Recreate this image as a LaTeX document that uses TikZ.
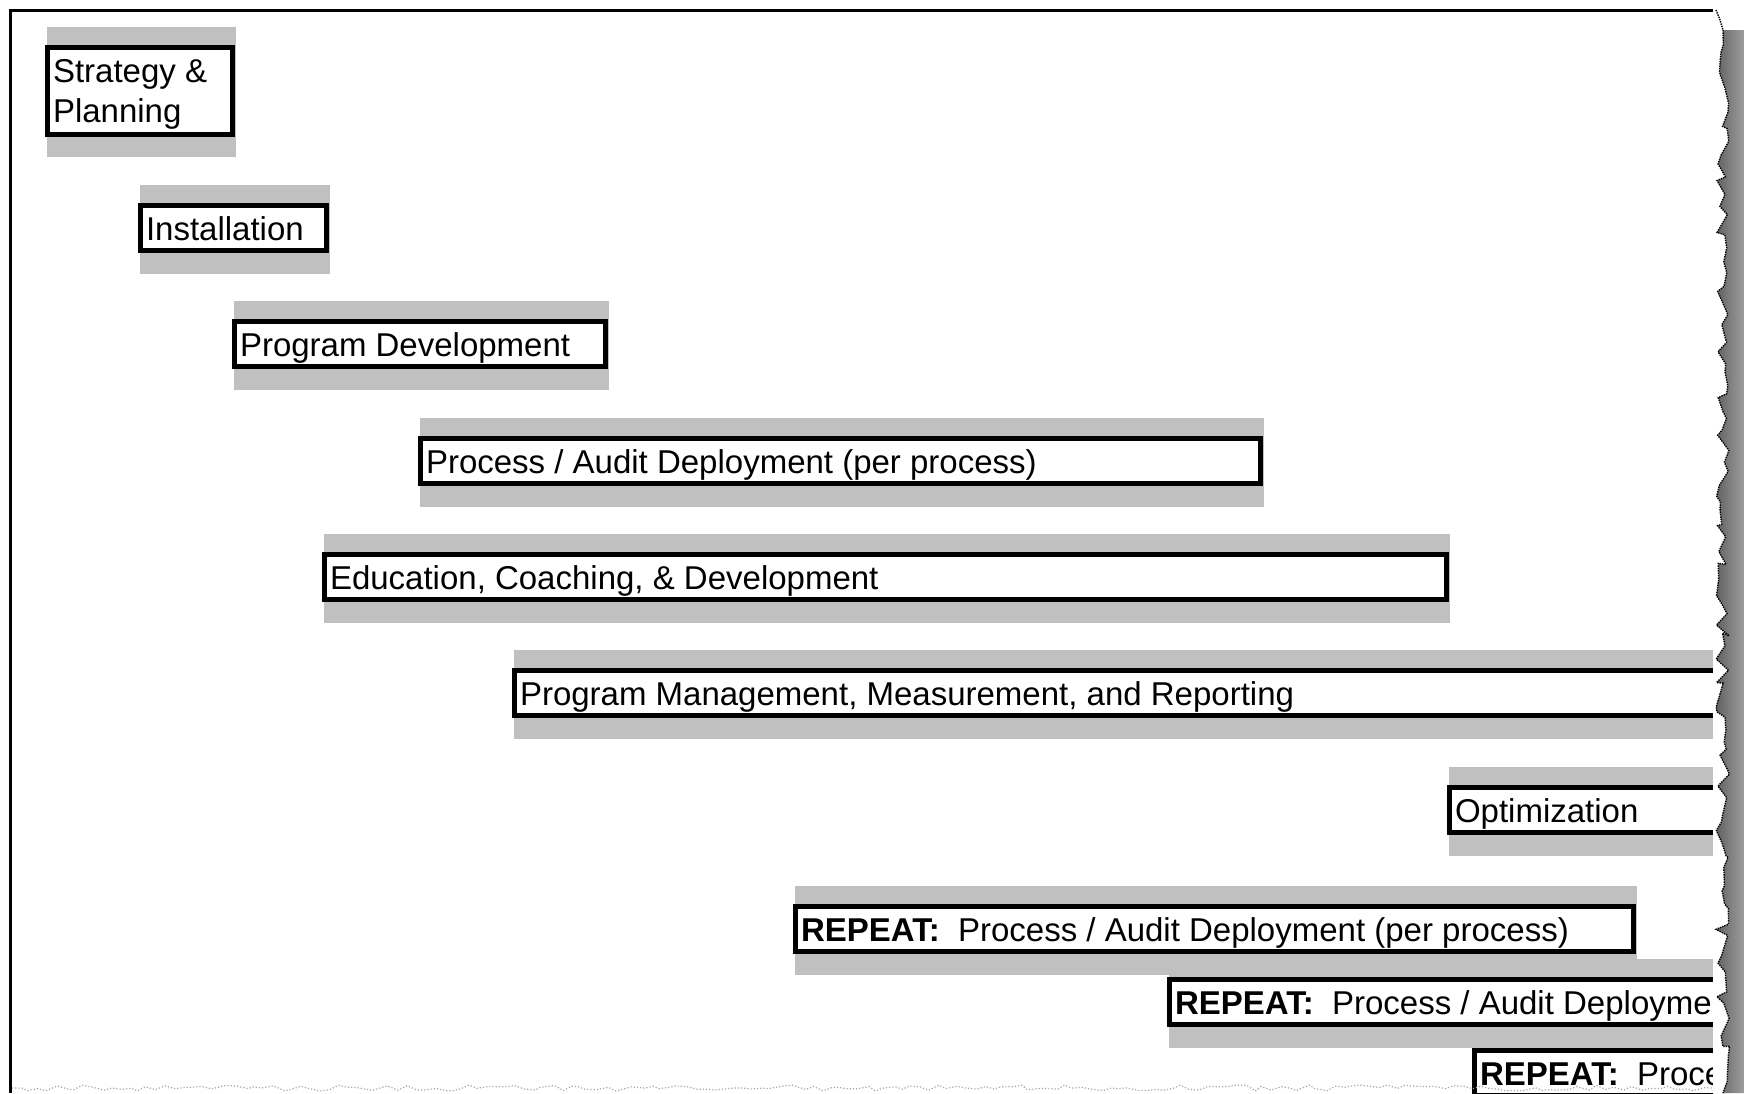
\documentclass[tikz,border=0pt]{standalone}
\usepackage{fontspec}
\setmainfont{Liberation Sans}
\usetikzlibrary{decorations.pathmorphing}
\definecolor{barGray}{RGB}{192,192,192}
\tikzset{
  barshade/.style={fill=barGray, draw=none},
  barbox/.style={rectangle, draw=black, line width=5pt, fill=white, inner sep=0pt, outer sep=0pt},
  bartext/.style={inner sep=0pt, outer sep=0pt, anchor=base west, font=\fontsize{33}{40}\selectfont, text=black},
  frameline/.style={draw=black, line width=3pt},
  tornedge/.style={draw=black, line width=1.4pt, densely dotted},
  tornshadow/.style={left color=black!62, right color=black!38},
  tornjag/.style={decoration={random steps, segment length=10pt, amplitude=7pt}},
}
% name, left, top, right, text  (box height 50 px)
\newcommand{\ganttrow}[5]{%
  \fill[barshade] (#2+2,#3-18) rectangle (#4+1,#3+71);
  \node[barbox, anchor=north west, minimum width={#4-#2-5}, minimum height=45] (#1) at (#2+2.5,#3+2.5) {};
  \node[bartext] (#1-label) at (#2+8,#3+37) {#5};
}
\begin{document}
\begin{tikzpicture}[x=1pt,y=-1pt]
  \fill[white] (0,0) rectangle (1744,1093);
  \useasboundingbox (0,0) rectangle (1744,1093);

  % paper frame (left and top edges)
  \draw[frameline] (10,1093) -- (10,10) -- (1716,10);

  \begin{scope}
    \clip (0,0) rectangle (1713,1093);
    % Strategy & Planning (two lines)
    \fill[barshade] (47,27) rectangle (236,157);
    \node[barbox, anchor=north west, minimum width=185, minimum height=87] (strategy) at (47.5,47.5) {};
    \node[bartext] (strategy-label) at (53,82)
      {\vtop{\baselineskip=40pt\hbox{Strategy \&}\hbox{Planning}}};

    \ganttrow{install}{138}{203}{329}{Installation}
    \ganttrow{progdev}{232}{319}{608}{Program Development}
    \ganttrow{deploy}{418}{436}{1263}{Process / Audit Deployment (per process)}
    \ganttrow{educ}{322}{552}{1449}{Education, Coaching, \& Development}
    \ganttrow{manage}{512}{668}{1740}{Program Management, Measurement, and Reporting}
    \ganttrow{optim}{1447}{785}{1740}{Optimization}
    \ganttrow{repA}{793}{904}{1636}{\textbf{REPEAT:}\ \ Process / Audit Deployment (per process)}
    \ganttrow{repB}{1167}{977}{1740}{\textbf{REPEAT:}\ \ Process / Audit Deployment (per process)}
    \ganttrow{repC}{1472}{1048}{1740}{\textbf{REPEAT:}\ \ Process / Audit Deployment (per process)}
  \end{scope}

  % torn right edge with shadow
  \fill[white] (1713,0) rectangle (1744,1093);
  \pgfmathsetseed{11}
  \shade[tornshadow] (1744,30) -- (1723,30)
     decorate[tornjag] {-- (1723,1093)} -- (1744,1093) -- cycle;
  \pgfmathsetseed{11}
  \draw[tornedge] (1723,30) decorate[tornjag] {-- (1723,1093)};
  \draw[tornedge] (1716,10) -- (1720,20) -- (1723,30);

  % torn bottom edge
  \pgfmathsetseed{5}
  \draw[draw=black!35, line width=1.2pt, dotted] (12,1088)
     decorate[decoration={random steps, segment length=9pt, amplitude=3pt}] {-- (1713,1088)};
\end{tikzpicture}
\end{document}
